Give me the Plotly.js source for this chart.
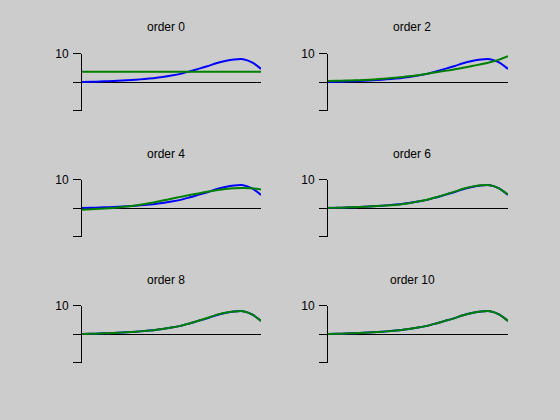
<!DOCTYPE html>
<html>
<head>
<meta charset="utf-8">
<script src="https://cdn.plot.ly/plotly-3.0.1.min.js"></script>
<style>
html, body { margin: 0; padding: 0; background: #cccccc; }
#chart { width: 560px; height: 420px; }
</style>
</head>
<body>
<div id="chart"></div>
<script>
// x samples (uniform along the horizontal extent of each panel)
var xs = [0,1,2,3,4,5,6,7,8,9,10,11,12,13,14,15,16,17,18,19,20];

// original data (blue)
var dataY = [0, 0.05, 0.15, 0.3, 0.45, 0.6, 0.8, 1.05, 1.35, 1.75, 2.25, 2.85, 3.7, 4.6, 5.5, 6.6, 7.4, 7.9, 8.0, 6.9, 4.6];

// polynomial fits (green)
var fit0  = [3.6, 3.6, 3.6, 3.6, 3.6, 3.6, 3.6, 3.6, 3.6, 3.6, 3.6, 3.6, 3.6, 3.6, 3.6, 3.6, 3.6, 3.6, 3.6, 3.6, 3.6];
var fit2  = [0.35, 0.4, 0.5, 0.6, 0.7, 0.85, 1.1, 1.4, 1.65, 2.0, 2.4, 2.9, 3.4, 3.9, 4.4, 5.0, 5.6, 6.25, 6.95, 7.85, 9.1];
var fit4  = [-0.6, -0.45, -0.3, -0.1, 0.15, 0.5, 0.9, 1.4, 1.95, 2.6, 3.25, 3.9, 4.55, 5.1, 5.7, 6.2, 6.65, 6.95, 7.05, 6.9, 6.5];
var fit6  = [0.05, 0.05, 0.15, 0.3, 0.45, 0.6, 0.75, 0.95, 1.25, 1.7, 2.25, 2.9, 3.75, 4.7, 5.65, 6.75, 7.5, 7.95, 7.95, 6.9, 4.75];
var fit8  = [0, 0.05, 0.15, 0.3, 0.45, 0.6, 0.8, 1.05, 1.35, 1.75, 2.25, 2.85, 3.7, 4.65, 5.6, 6.7, 7.45, 7.9, 8.0, 6.9, 4.6];
var fit10 = [0, 0.05, 0.15, 0.3, 0.45, 0.6, 0.8, 1.05, 1.35, 1.75, 2.25, 2.85, 3.7, 4.6, 5.5, 6.6, 7.4, 7.9, 8.0, 6.9, 4.6];

var orders = ["order 0", "order 2", "order 4", "order 6", "order 8", "order 10"];
var fits = [fit0, fit2, fit4, fit6, fit8, fit10];

var W = 560, H = 420;
var colDom = [[82 / W, 261 / W], [328 / W, 508 / W]];
var rowDom = [[1 - 110.5 / H, 1 - 53.5 / H], [1 - 236.5 / H, 1 - 179.5 / H], [1 - 362.5 / H, 1 - 305.5 / H]];
var titleX = [166 / W, 412 / W];
var titleY = [1 - 27.5 / H, 1 - 153.5 / H, 1 - 279.5 / H];

var FONT = "Liberation Sans, Arial, sans-serif";
var traces = [];
var layout = {
  width: W, height: H,
  margin: {l: 0, r: 0, t: 0, b: 0},
  paper_bgcolor: "#cccccc",
  plot_bgcolor: "rgba(0,0,0,0)",
  showlegend: false,
  font: {family: FONT, size: 12, color: "#000000"},
  annotations: []
};

for (var i = 0; i < 6; i++) {
  var r = Math.floor(i / 2), c = i % 2;
  var n = i + 1;
  var xa = "x" + (n === 1 ? "" : n), ya = "y" + (n === 1 ? "" : n);
  var xk = "xaxis" + (n === 1 ? "" : n), yk = "yaxis" + (n === 1 ? "" : n);
  traces.push({x: xs, y: dataY, xaxis: xa, yaxis: ya, type: "scatter", mode: "lines",
               line: {color: "#0000ff", width: 2, shape: "spline", smoothing: 0.6}, hoverinfo: "skip"});
  traces.push({x: xs, y: fits[i], xaxis: xa, yaxis: ya, type: "scatter", mode: "lines",
               line: {color: "#008000", width: 2, shape: "spline", smoothing: 0.6}, hoverinfo: "skip"});
  layout[xk] = {domain: colDom[c], range: [xs[0], xs[xs.length - 1]], anchor: ya,
                visible: false, fixedrange: true};
  layout[yk] = {domain: rowDom[r], range: [-10, 10], anchor: xa,
                showline: true, linecolor: "#000000", linewidth: 1,
                ticks: "outside", ticklen: 8, tickwidth: 1, tickcolor: "#000000",
                ticklabelstandoff: 2,
                tickmode: "array", tickvals: [-10, 0, 10], ticktext: ["", "", "10"],
                tickfont: {family: FONT, size: 12, color: "#000000"},
                showgrid: false, zeroline: true, zerolinecolor: "#000000", zerolinewidth: 1,
                fixedrange: true};
  layout.annotations.push({text: orders[i], xref: "paper", yref: "paper",
                           x: titleX[c], y: titleY[r], xanchor: "center", yanchor: "middle",
                           showarrow: false, font: {family: FONT, size: 12, color: "#000000"}});
}

Plotly.newPlot("chart", traces, layout, {displayModeBar: false, staticPlot: true});
</script>
</body>
</html>
